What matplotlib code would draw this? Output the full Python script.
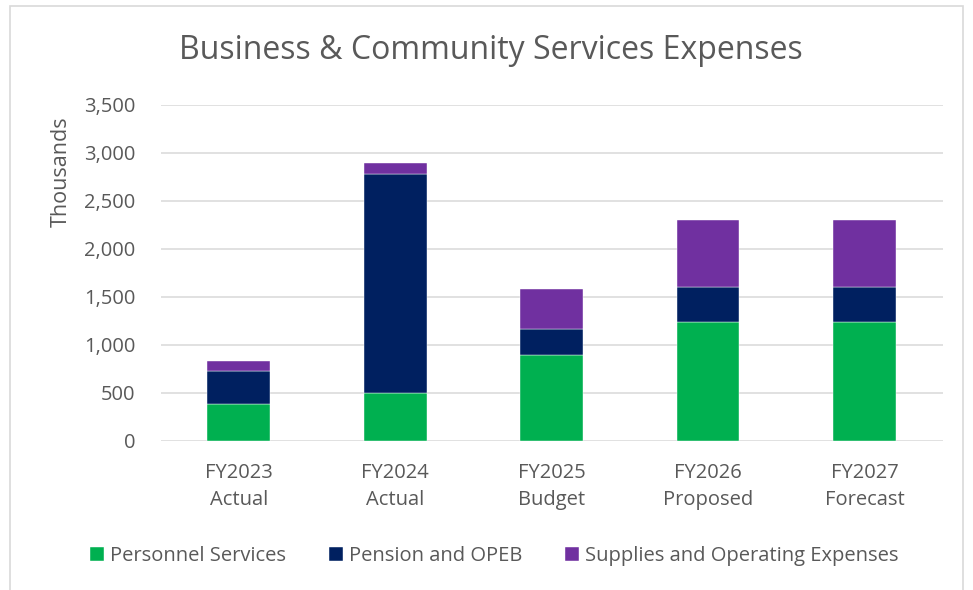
import numpy as np
import matplotlib.pyplot as plt
from matplotlib.patches import Rectangle

# values in thousands
years = ["FY2023\nActual", "FY2024\nActual", "FY2025\nBudget", "FY2026\nProposed", "FY2027\nForecast"]
personnel = [382, 497, 893, 1233, 1233]
pension = [347, 2284, 267, 371, 371]
supplies = [101, 109, 417, 692, 692]

series_names = ["Personnel Services", "Pension and OPEB", "Supplies and Operating Expenses"]
colors = ["#00B050", "#002060", "#7030A0"]
text_color = "#595959"

plt.rcParams['font.family'] = ['Open Sans', 'DejaVu Sans']

fig = plt.figure(figsize=(9.73, 5.9), dpi=100)
ax = fig.add_axes([0.165, 0.253, 0.804, 0.5695])

# outer chart border
fig.patches.append(Rectangle((10 / 973, -0.01), 953 / 973, 1 - 6 / 590 + 0.01,
                             transform=fig.transFigure, fill=False,
                             edgecolor="#d9d9d9", linewidth=1.2))

x = np.arange(len(years))
bottom = np.zeros(len(years))
for vals, name, col in zip([personnel, pension, supplies], series_names, colors):
    ax.bar(x, vals, width=0.4, bottom=bottom, color=col, label=name,
           edgecolor="white", linewidth=0.3, zorder=3)
    bottom += np.array(vals)

ax.set_xlim(-0.5, len(years) - 0.5)
ax.set_ylim(0, 3500)
ax.set_yticks(np.arange(0, 3501, 500))
ax.set_yticklabels([f"{v:,}" for v in range(0, 3501, 500)])
ax.set_xticks(x)
ax.set_xticklabels(years, linespacing=1.45)
ax.grid(axis="y", color="#d9d9d9", linewidth=1.1, zorder=0)
for s in ax.spines.values():
    s.set_visible(False)
ax.tick_params(axis="both", length=0, colors=text_color, labelsize=14.5)
ax.tick_params(axis="y", pad=18)
ax.tick_params(axis="x", pad=16)
ax.set_ylabel("Thousands", fontsize=15.5, color=text_color)
ax.yaxis.set_label_coords(-0.113, 0.80)

fig.text(0.505, 0.914, "Business & Community Services Expenses",
         ha="center", va="center", fontsize=23, color=text_color)

fig.legend(loc="center", bbox_to_anchor=(0.508, 0.058), ncol=3, frameon=False,
           fontsize=14.5, labelcolor=text_color, handlelength=0.7, handleheight=0.7,
           handletextpad=0.3, columnspacing=2.1)

fig.savefig("out.png", dpi=100)
